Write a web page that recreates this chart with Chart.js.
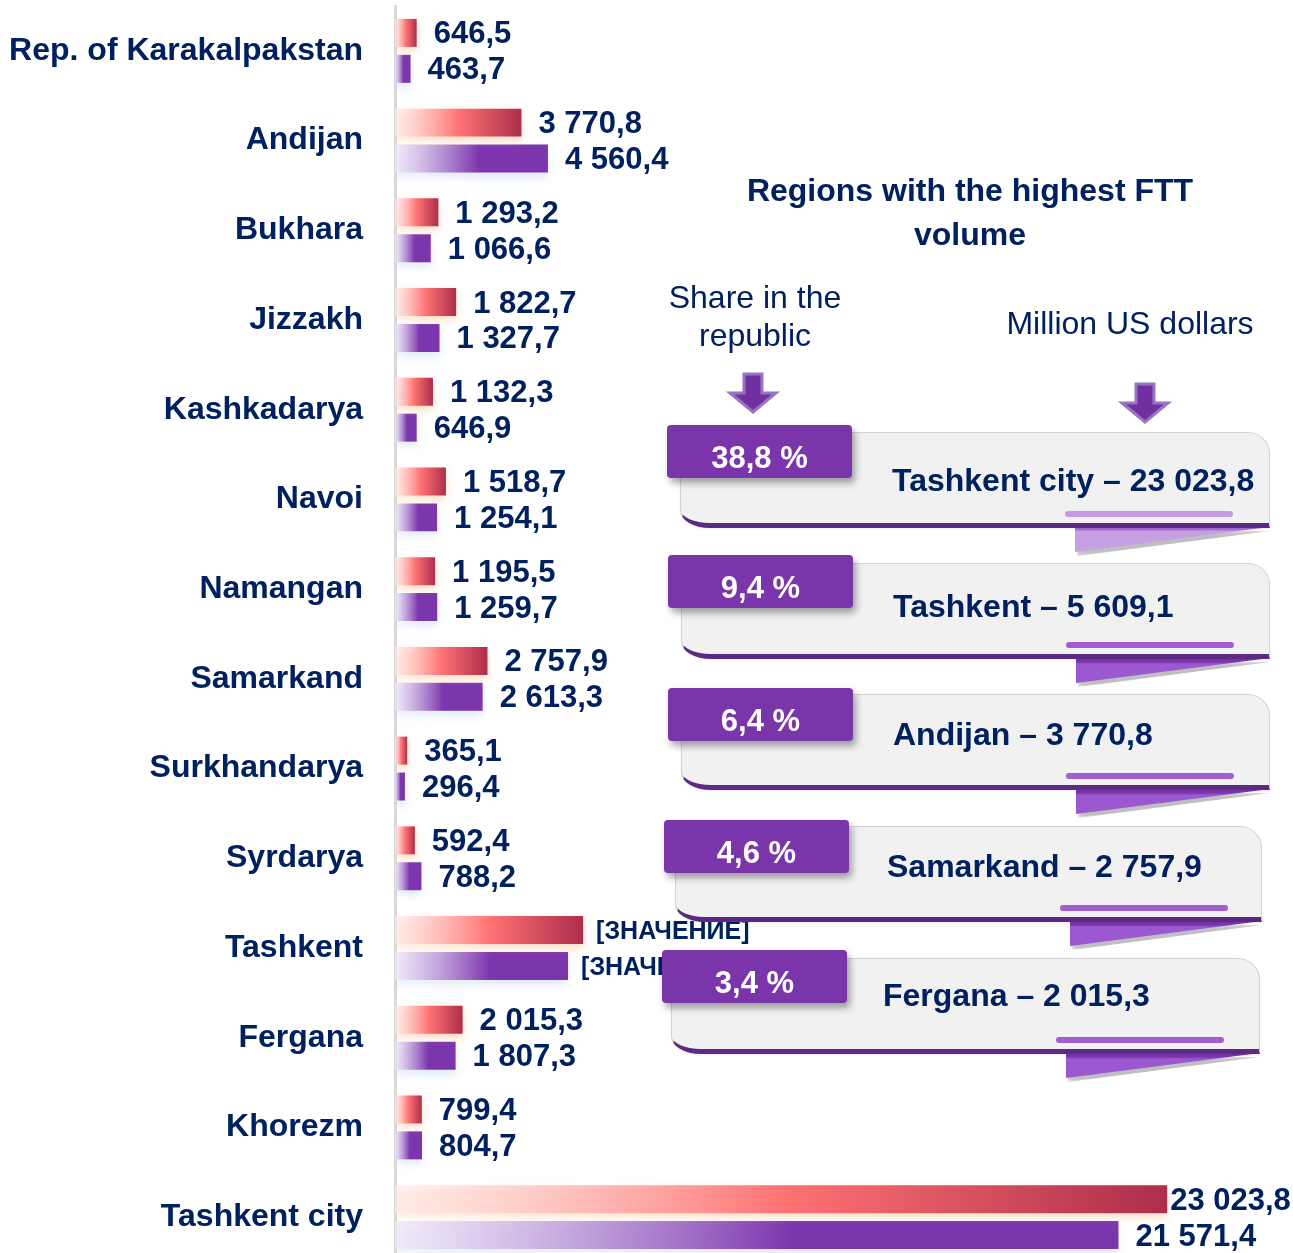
<!DOCTYPE html>
<html>
<head>
<meta charset="utf-8">
<script src="https://cdn.jsdelivr.net/npm/chart.js@4.4.1/dist/chart.umd.min.js"></script>
<style>
  html, body { margin:0; padding:0; background:#ffffff; overflow:hidden; width:1293px; height:1253px; }
  #wrap { position:relative; width:1293px; height:1262px; }
  #chart { position:absolute; left:0; top:0; }
  .ov { position:absolute; font-family:"Liberation Sans", Arial, sans-serif; color:#002060; white-space:nowrap; }
  .title { font-weight:bold; font-size:32px; line-height:44px; text-align:center; }
  .note { font-size:32px; line-height:38px; text-align:center; }
  .pbody { position:absolute; box-sizing:border-box; background:#f1f1f1;
           border:1px solid #d4d4d4; border-bottom:5px solid #5c2a82;
           border-top-right-radius:22px; border-bottom-left-radius:30px 18px;
           box-shadow: 0 1px 2px rgba(0,0,0,0.08); }
  .ptab { position:absolute; box-sizing:border-box; background:#7a35aa; border-radius:4px; color:#fff; font-weight:bold;
          font-size:31px; text-align:center; box-shadow:3px 5px 7px rgba(0,0,0,0.35); padding-top:15px;
          font-family:"Liberation Sans", Arial, sans-serif; }
  .ptext { position:absolute; font-weight:bold; font-size:32px; line-height:40px; }
  .pline { position:absolute; height:6px; border-radius:3px; }
  .pfold { position:absolute; clip-path:polygon(0 0, 100% 0, 0 100%); }
  .pfoldshadow { position:absolute; clip-path:polygon(0 0, 100% 0, 0 100%); background:rgba(0,0,0,0.25); filter:blur(2px); }
  svg.arrows { position:absolute; left:0; top:0; }
</style>
</head>
<body>
<div id="wrap">
  <canvas id="chart" width="1293" height="1262"></canvas>
  <div id="overlay"></div>
</div>
<script>
// ---------- Data ----------
const categories = [
  'Rep. of Karakalpakstan', 'Andijan', 'Bukhara', 'Jizzakh', 'Kashkadarya', 'Navoi',
  'Namangan', 'Samarkand', 'Surkhandarya', 'Syrdarya', 'Tashkent', 'Fergana',
  'Khorezm', 'Tashkent city'
];
const currentPeriod = [
  646.5, 3770.8, 1293.2, 1822.7, 1132.3, 1518.7,
  1195.5, 2757.9, 365.1, 592.4, 5609.1, 2015.3,
  799.4, 23023.8
];
const previousPeriod = [
  463.7, 4560.4, 1066.6, 1327.7, 646.9, 1254.1,
  1259.7, 2613.3, 296.4, 788.2, 5160.0, 1807.3,
  804.7, 21571.4
];
// categories whose data labels show the unfilled placeholder text
const placeholderCategories = ['Tashkent'];
const placeholderText = '[ЗНАЧЕНИЕ]';

// highlighted regions panel
const highlightRegions = ['Tashkent city', 'Tashkent', 'Andijan', 'Samarkand', 'Fergana'];
const highlightShares = ['38,8 %', '9,4 %', '6,4 %', '4,6 %', '3,4 %'];

const titleLines = ['Regions with the highest FTT', 'volume'];
const shareNoteLines = ['Share in the', 'republic'];
const unitNote = 'Million US dollars';

// ---------- Helpers ----------
const NAVY = '#002060';
const FONT = '"Liberation Sans", Arial, sans-serif';
function fmt(v) {
  const parts = v.toFixed(1).split('.');
  return parts[0].replace(/\B(?=(\d{3})+(?!\d))/g, ' ') + ',' + parts[1];
}
function barGradient(c, stops) {
  const chart = c.chart;
  if (!chart.chartArea || !chart.scales.x) return stops[stops.length - 1][1];
  const xs = chart.scales.x;
  const x0 = xs.getPixelForValue(0);
  const x1 = xs.getPixelForValue(c.raw);
  const g = chart.ctx.createLinearGradient(x0, 0, Math.max(x1, x0 + 1), 0);
  stops.forEach(s => g.addColorStop(s[0], s[1]));
  return g;
}
const redStops = [[0, 'rgba(255,235,235,0.6)'], [0.5, '#ff7373'], [1, '#ad2d4b']];
const purpleStops = [[0, 'rgba(240,230,250,0.7)'], [0.55, '#7b35ad'], [1, '#7b35ad']];
const shadows = [
  { color: 'rgba(255,180,120,0.45)', blur: 8, oy: 4 },
  { color: 'rgba(170,195,230,0.35)', blur: 8, oy: 5 }
];

const barShadow = {
  id: 'barShadow',
  beforeDatasetDraw(chart, args) {
    const s = shadows[args.index];
    chart.ctx.save();
    chart.ctx.shadowColor = s.color;
    chart.ctx.shadowBlur = s.blur;
    chart.ctx.shadowOffsetY = s.oy;
  },
  afterDatasetDraw(chart) { chart.ctx.restore(); }
};

const valueLabels = {
  id: 'valueLabels',
  afterDatasetsDraw(chart) {
    const ctx = chart.ctx;
    ctx.save();
    ctx.fillStyle = NAVY;
    ctx.textAlign = 'left';
    ctx.textBaseline = 'middle';
    chart.data.datasets.forEach((ds, di) => {
      chart.getDatasetMeta(di).data.forEach((el, i) => {
        const isPlaceholder = placeholderCategories.includes(categories[i]);
        const txt = isPlaceholder ? placeholderText : fmt(ds.data[i]);
        ctx.font = 'bold ' + (isPlaceholder ? 25 : 31) + 'px ' + FONT;
        let x = el.x + (isPlaceholder ? 13 : 17);
        const w = ctx.measureText(txt).width;
        if (x + w > chart.width - 2) {
          x = el.x + 3;
          ctx.fillText(txt, x, el.y + 2, chart.width - 2 - x);
        } else {
          ctx.fillText(txt, x, el.y + 2);
        }
      });
    });
    ctx.restore();
  }
};

new Chart(document.getElementById('chart'), {
  type: 'bar',
  data: {
    labels: categories,
    datasets: [
      { label: 'current', data: currentPeriod, backgroundColor: c => barGradient(c, redStops),
        categoryPercentage: 0.8, barPercentage: 0.78 },
      { label: 'previous', data: previousPeriod, backgroundColor: c => barGradient(c, purpleStops),
        categoryPercentage: 0.8, barPercentage: 0.78 }
    ]
  },
  options: {
    indexAxis: 'y',
    responsive: false,
    animation: false,
    layout: { padding: { top: 6, right: 26, bottom: 0, left: 0 } },
    plugins: { legend: { display: false }, tooltip: { enabled: false } },
    scales: {
      x: { min: 0, max: 26000, display: false },
      y: {
        grid: { display: false, drawTicks: false },
        border: { display: true, color: '#d9d9d9', width: 3 },
        ticks: { color: NAVY, font: { family: FONT, size: 32, weight: 'bold' }, padding: 32 },
        afterFit(s) { s.width = 395; s.paddingTop = 0; s.paddingBottom = 0; }
      }
    }
  },
  plugins: [barShadow, valueLabels]
});

// ---------- Overlay (title, notes, highlight panels) ----------
const ov = document.getElementById('overlay');
function addDiv(cls, style, html) {
  const d = document.createElement('div');
  d.className = cls;
  Object.assign(d.style, style);
  if (html !== undefined) d.innerHTML = html;
  ov.appendChild(d);
  return d;
}
addDiv('ov title', { left: '670px', width: '600px', top: '168px' }, titleLines.join('<br>'));
addDiv('ov note', { left: '455px', width: '600px', top: '278px' }, shareNoteLines.join('<br>'));
addDiv('ov note', { left: '830px', width: '600px', top: '304px' }, unitNote);

// arrows
ov.insertAdjacentHTML('beforeend',
  '<svg class="arrows" width="1293" height="1262">' +
  '<polygon points="744,374 762,374 762,393 776,393 753,412 730,393 744,393" fill="#7030a0" stroke="#9a74c4" stroke-width="3" stroke-linejoin="miter"/>' +
  '<polygon points="1136,384 1154,384 1154,403 1168,403 1145,422 1122,403 1136,403" fill="#7030a0" stroke="#9a74c4" stroke-width="3" stroke-linejoin="miter"/>' +
  '</svg>');

const panelLayout = [
  { tx: 667, ty: 425, bx: 680, by: 432, bw: 590, textY: 48, light: true },
  { tx: 668, ty: 555, bx: 681, by: 563, bw: 589, textY: 43, light: false },
  { tx: 668, ty: 688, bx: 681, by: 694, bw: 589, textY: 40, light: false },
  { tx: 664, ty: 820, bx: 675, by: 826, bw: 587, textY: 40, light: false },
  { tx: 662, ty: 950, bx: 671, by: 958, bw: 589, textY: 37, light: false }
];
highlightRegions.forEach((region, k) => {
  const L = panelLayout[k];
  const value = currentPeriod[categories.indexOf(region)];
  const bodyH = 96;
  addDiv('pfoldshadow', { left: (L.bx + 397) + 'px', top: (L.by + bodyH + 3) + 'px', width: (L.bw - 397) + 'px', height: '25px' });
  addDiv('pfold', { left: (L.bx + 395) + 'px', top: (L.by + bodyH - 1) + 'px', width: (L.bw - 395) + 'px', height: '25px',
    background: L.light ? 'linear-gradient(#a86fd6 0px, #a86fd6 3px, #c79fe3 4px, #c79fe3 100%)'
                        : 'linear-gradient(#7b35ad 0px, #7b35ad 4px, #9b58d0 6px, #9b58d0 100%)' });
  addDiv('pbody', { left: L.bx + 'px', top: L.by + 'px', width: L.bw + 'px', height: bodyH + 'px' });
  addDiv('pline', { left: (L.bx + 385) + 'px', top: (L.by + 79) + 'px', width: '168px',
    background: L.light ? '#c49be2' : '#a35fd2' });
  addDiv('ov ptext', { left: (L.bx + 212) + 'px', top: (L.by + L.textY - 20) + 'px' },
    region + ' – ' + fmt(value));
  addDiv('ptab', { left: L.tx + 'px', top: L.ty + 'px', width: '185px', height: '53px', lineHeight: '36px' },
    highlightShares[k]);
});
</script>
</body>
</html>
